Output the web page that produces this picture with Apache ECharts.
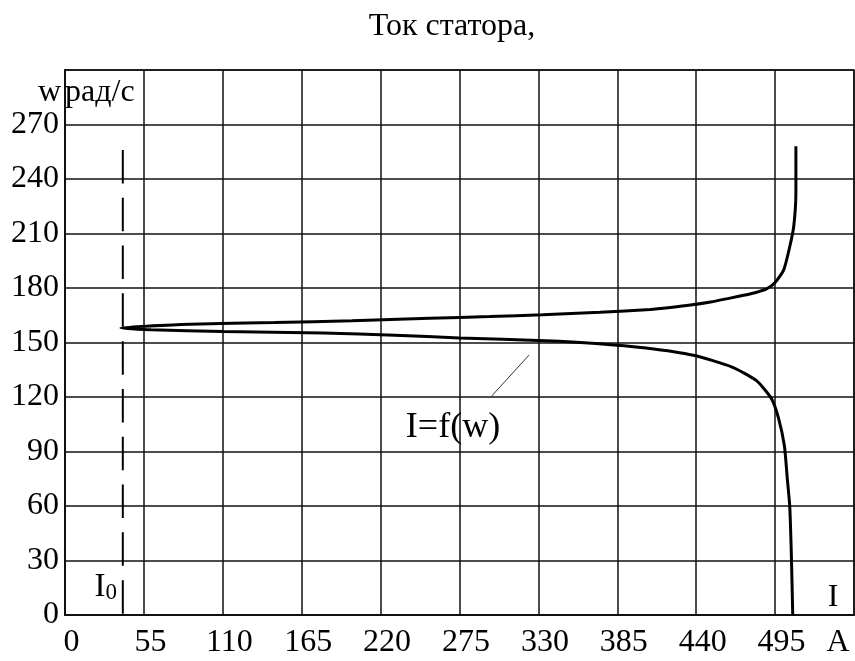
<!DOCTYPE html>
<html>
<head>
<meta charset="utf-8">
<script src="https://cdn.jsdelivr.net/npm/echarts@6/dist/echarts.min.js"></script>
<style>
  html, body { margin: 0; padding: 0; background: #fff; }
  #chart { width: 855px; height: 661px; }
</style>
</head>
<body>
<div id="chart"></div>
<script>
// Stator current I (A) against rotor speed w (rad/s), ordered by rising speed:
// motor branch from standstill up to no-load point, then the generator branch.
const current = [
  507.3, 506.3, 505.2, 503.5, 501.5, 497.5, 492.5, 482, 465, 438, 405, 370, 335, 275, 230, 180, 110, 60, 39,
  87, 146, 200, 254, 296, 333, 373, 408, 422, 436, 450, 461, 478, 489, 495, 501, 505, 508, 509.5, 509.5
];
const speed = [
  0, 34, 60, 75, 93, 108, 119, 129, 136.5, 143, 147, 149.5, 151, 152.5, 154, 155.2, 156, 157, 158,
  160, 161, 162, 163.3, 164.3, 165.3, 166.6, 168.2, 169.3, 170.6, 172.3, 174, 176.8, 179.5, 183, 190, 202, 214, 233, 258
];

// No-load current marker
const noLoadCurrent = 40.3;
const noLoadSpan = [256, 0];

// Pointer from the curve label to the curve
const pointerCurrent = [297.5, 323.5];
const pointerSpeed = [120.6, 143.1];

const xTicks = [0, 55, 110, 165, 220, 275, 330, 385, 440, 495];
const yTicks = [0, 30, 60, 90, 120, 150, 180, 210, 240, 270];

const FONT = "'Liberation Serif', 'Times New Roman', serif";

const curveData = current.map((v, i) => [v, speed[i]]);
const noLoadData = noLoadSpan.map(w => [noLoadCurrent, w]);
const pointerData = pointerCurrent.map((v, i) => [v, pointerSpeed[i]]);

const chart = echarts.init(document.getElementById('chart'));

const gridLine = { color: '#111', width: 1.5 };

chart.setOption({
  animation: false,
  backgroundColor: '#fff',
  grid: {
    left: 65, right: 1, top: 70, bottom: 46,
    outerBoundsMode: 'none', containLabel: false,
    show: true, borderColor: '#111', borderWidth: 1.5, backgroundColor: 'transparent'
  },
  xAxis: {
    type: 'value', min: 0, max: 550, interval: 55,
    axisLine: { show: true, lineStyle: { color: '#111', width: 2 } },
    axisTick: { show: false },
    splitLine: { show: true, lineStyle: gridLine },
    axisLabel: {
      fontFamily: FONT, fontSize: 32, color: '#000', margin: 12, lineHeight: 32,
      padding: [0, 0, 0, 13],
      formatter: v => xTicks.includes(v) ? String(v) : ''
    }
  },
  yAxis: {
    type: 'value', min: 0, max: 300, interval: 30,
    axisLine: { show: true, lineStyle: { color: '#111', width: 2 } },
    axisTick: { show: false },
    splitLine: { show: true, lineStyle: gridLine },
    axisLabel: {
      fontFamily: FONT, fontSize: 32, color: '#000', margin: 6,
      formatter: v => yTicks.includes(v) ? String(v) : ''
    }
  },
  series: [
    {
      type: 'line', data: curveData, showSymbol: false, smooth: 0.2,
      lineStyle: { color: '#000', width: 3 }, z: 5
    },
    {
      type: 'line', data: noLoadData, showSymbol: false,
      lineStyle: { color: '#000', width: 2, type: [33.5, 14.3] }, z: 4
    },
    {
      type: 'line', data: pointerData, showSymbol: false,
      lineStyle: { color: '#333', width: 1 }, z: 4
    }
  ],
  graphic: [
    { type: 'text', x: 452, y: 27, style: { text: 'Ток статора,', fontFamily: FONT, fontSize: 32, fill: '#000', align: 'center', verticalAlign: 'middle' } },
    { type: 'text', x: 61, y: 93, style: { text: 'w', fontFamily: FONT, fontSize: 32, fill: '#000', align: 'right', verticalAlign: 'middle' }, z: 10 },
    { type: 'text', x: 65, y: 93, style: { text: 'рад/с', fontFamily: FONT, fontSize: 32, fill: '#000', align: 'left', verticalAlign: 'middle' }, z: 10 },
    { type: 'text', x: 453, y: 428, style: { text: 'I=f(w)', fontFamily: FONT, fontSize: 36, fill: '#000', align: 'center', verticalAlign: 'middle' }, z: 10 },
    { type: 'text', x: 117, y: 604, style: {
        text: '{a|I}{b|0}', align: 'right', verticalAlign: 'bottom',
        rich: { a: { fontFamily: FONT, fontSize: 33, fill: '#000', verticalAlign: 'bottom' }, b: { fontFamily: FONT, fontSize: 23, fill: '#000', verticalAlign: 'bottom' } }
      }, z: 10 },
    { type: 'text', x: 833, y: 598, style: { text: 'I', fontFamily: FONT, fontSize: 32, fill: '#000', align: 'center', verticalAlign: 'middle' }, z: 10 },
    { type: 'text', x: 838, y: 643, style: { text: 'A', fontFamily: FONT, fontSize: 32, fill: '#000', align: 'center', verticalAlign: 'middle' }, z: 10 }
  ]
});
</script>
</body>
</html>
